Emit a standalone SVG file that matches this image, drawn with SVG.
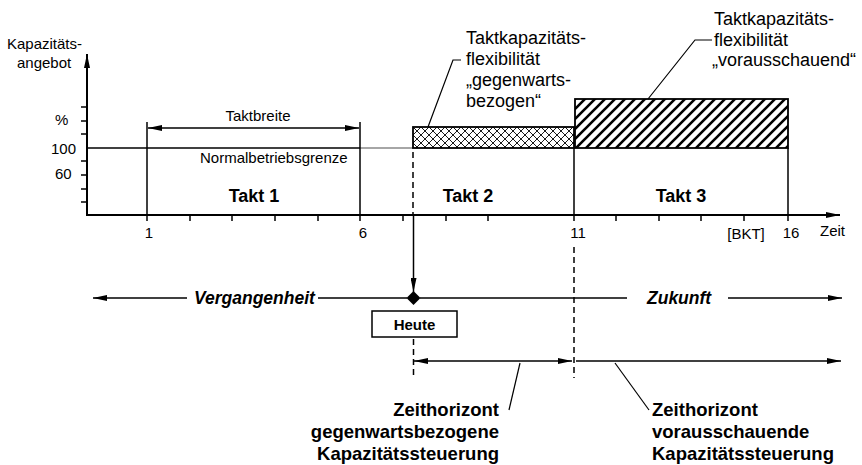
<svg xmlns="http://www.w3.org/2000/svg" width="862" height="465" viewBox="0 0 862 465">
  <style>
    text { font-family: "Liberation Sans", Arial, sans-serif; fill: #000; }
    .reg { font-size: 15px; }
    .lbl { font-size: 18px; }
    .bold { font-size: 18px; font-weight: bold; }
    .bi { font-size: 17.5px; font-weight: bold; font-style: italic; }
    .hz { font-size: 18.5px; font-weight: bold; }
    .axis { stroke: #000; stroke-width: 2; fill: none; }
    .ln { stroke: #000; stroke-width: 1.5; fill: none; }
    .thin { stroke: #000; stroke-width: 1.2; fill: none; }
    .dash { stroke: #000; stroke-width: 1.5; stroke-dasharray: 6 4; fill: none; }
    .tick { stroke: #000; stroke-width: 1.5; }
  </style>
  <defs>
    <marker id="arr" viewBox="0 0 14 6" refX="14" refY="3" markerWidth="14" markerHeight="6" markerUnits="userSpaceOnUse" orient="auto-start-reverse">
      <path d="M0,0 L14,3 L0,6 Z" fill="#000"/>
    </marker>
    <pattern id="cross" patternUnits="userSpaceOnUse" width="8" height="8" x="413" y="127">
      <rect width="8" height="8" fill="#fff"/>
      <path d="M0,0 L8,8 M8,0 L0,8" stroke="#000" stroke-width="0.9"/>
    </pattern>
    <pattern id="diag" patternUnits="userSpaceOnUse" width="10" height="10" x="575" y="99">
      <rect width="10" height="10" fill="#fff"/>
      <path d="M-2,2 L2,-2 M0,10 L10,0 M8,12 L12,8" stroke="#000" stroke-width="2.6"/>
    </pattern>
  </defs>

  <!-- chart axes and scale -->
  <g id="axes">
    <line class="axis" x1="87" y1="215" x2="87" y2="54" marker-end="url(#arr)"/>
    <line class="axis" x1="86" y1="215" x2="840" y2="215" marker-end="url(#arr)"/>
    <g class="tick">
      <line x1="81" y1="107" x2="87" y2="107"/>
      <line x1="81" y1="121" x2="87" y2="121"/>
      <line x1="81" y1="134" x2="87" y2="134"/>
      <line x1="81" y1="161" x2="87" y2="161"/>
      <line x1="81" y1="175" x2="87" y2="175"/>
      <line x1="81" y1="189" x2="87" y2="189"/>
      <line x1="81" y1="202" x2="87" y2="202"/>
      <line x1="190" y1="215" x2="190" y2="221"/>
      <line x1="232" y1="215" x2="232" y2="221"/>
      <line x1="275" y1="215" x2="275" y2="221"/>
      <line x1="318" y1="215" x2="318" y2="221"/>
      <line x1="403" y1="215" x2="403" y2="221"/>
      <line x1="446" y1="215" x2="446" y2="221"/>
      <line x1="488" y1="215" x2="488" y2="221"/>
      <line x1="616" y1="215" x2="616" y2="221"/>
      <line x1="659" y1="215" x2="659" y2="221"/>
      <line x1="701" y1="215" x2="701" y2="221"/>
      <line x1="744" y1="215" x2="744" y2="221"/>
    </g>
    <text class="reg" x="7" y="49">Kapazitäts-</text>
    <text class="reg" x="17" y="68">angebot</text>
    <text class="reg" x="55" y="125">%</text>
    <text class="reg" x="51" y="154">100</text>
    <text class="reg" x="55" y="179">60</text>
    <text class="reg" x="149" y="238" text-anchor="middle">1</text>
    <text class="reg" x="363" y="238" text-anchor="middle">6</text>
    <text class="reg" x="578" y="238" text-anchor="middle">11</text>
    <text class="reg" x="791" y="238" text-anchor="middle">16</text>
    <text class="reg" x="746" y="239" text-anchor="middle">[BKT]</text>
    <text class="reg" x="820" y="236">Zeit</text>
  </g>

  <!-- normal operating limit -->
  <g id="normalgrenze">
    <line class="ln" x1="87" y1="148" x2="360" y2="148"/>
    <line x1="360" y1="148" x2="413" y2="148" stroke="#888" stroke-width="1.5"/>
    <text class="reg" x="200" y="163">Normalbetriebsgrenze</text>
  </g>

  <!-- cycle 1 -->
  <g id="takt1">
    <line class="ln" x1="147" y1="122" x2="147" y2="221"/>
    <line class="ln" x1="360" y1="122" x2="360" y2="221"/>
    <text class="bold" x="254" y="202" text-anchor="middle">Takt 1</text>
  </g>

  <!-- cycle width dimension -->
  <g id="taktbreite">
    <line class="ln" x1="148" y1="128" x2="359" y2="128" marker-start="url(#arr)" marker-end="url(#arr)"/>
    <text class="reg" x="258" y="121" text-anchor="middle">Taktbreite</text>
  </g>

  <!-- cycle 2 with present-oriented flexibility -->
  <g id="takt2">
    <rect x="413" y="127" width="161" height="21" fill="url(#cross)" stroke="#000" stroke-width="1.8"/>
    <line class="dash" x1="413" y1="152" x2="413" y2="215"/>
    <line class="ln" x1="574" y1="148" x2="574" y2="221"/>
    <text class="bold" x="468" y="202" text-anchor="middle">Takt 2</text>
  </g>

  <!-- cycle 3 with forward-looking flexibility -->
  <g id="takt3">
    <rect x="575" y="99" width="213" height="49" fill="url(#diag)" stroke="#000" stroke-width="1.8"/>
    <line class="ln" x1="788" y1="148" x2="788" y2="221"/>
    <text class="bold" x="681" y="202" text-anchor="middle">Takt 3</text>
  </g>

  <g id="flex-gegenwart">
    <text class="lbl" x="466" y="44">Taktkapazitäts-</text>
    <text class="lbl" x="466" y="65">flexibilität</text>
    <text class="lbl" x="466" y="86">„gegenwarts-</text>
    <text class="lbl" x="466" y="107">bezogen“</text>
  </g>

  <g id="flex-voraus">
    <text class="lbl" x="714" y="25">Taktkapazitäts-</text>
    <text class="lbl" x="714" y="46">flexibilität</text>
    <text class="lbl" x="712" y="66">„vorausschauend“</text>
  </g>

  <!-- time line: past / today / future -->
  <g id="zeitachse">
    <text class="bi" x="194" y="304">Vergangenheit</text>
    <text class="bi" x="647" y="304">Zukunft</text>
  </g>

  <g id="heute">
    <path d="M413.5,291 L420.5,298 L413.5,305 L406.5,298 Z" fill="#000"/>
    <rect x="372" y="311" width="85" height="26" fill="#fff" stroke="#000" stroke-width="1.5"/>
    <text x="414.5" y="330" font-size="15" font-weight="bold" text-anchor="middle">Heute</text>
  </g>

  <g id="horizont-gegenwart">
    <text class="hz" x="499" y="416" text-anchor="end">Zeithorizont</text>
    <text class="hz" x="499" y="438" text-anchor="end">gegenwartsbezogene</text>
    <text class="hz" x="499" y="460" text-anchor="end">Kapazitätssteuerung</text>
  </g>

  <g id="horizont-voraus">
    <text class="hz" x="652" y="416">Zeithorizont</text>
    <text class="hz" x="652" y="438">vorausschauende</text>
    <text class="hz" x="652" y="460">Kapazitätssteuerung</text>
  </g>

  <!-- connectors -->
  <g id="connectors">
    <line class="ln" x1="413.5" y1="215" x2="413.5" y2="292" marker-end="url(#arr)"/>
    <line class="ln" x1="187" y1="298" x2="93" y2="298" marker-end="url(#arr)"/>
    <line class="ln" x1="318" y1="298" x2="407" y2="298"/>
    <line class="ln" x1="420" y1="298" x2="627" y2="298"/>
    <line class="ln" x1="728" y1="298" x2="842" y2="298" marker-end="url(#arr)"/>
    <line class="dash" x1="574" y1="247" x2="574" y2="378"/>
    <line class="dash" x1="413.5" y1="339" x2="413.5" y2="378"/>
    <line class="ln" x1="414" y1="361" x2="572" y2="361" marker-start="url(#arr)" marker-end="url(#arr)"/>
    <line class="ln" x1="576" y1="361" x2="841" y2="361" marker-end="url(#arr)"/>
    <polyline class="thin" points="428,127 453,60 461,60"/>
    <polyline class="thin" points="648,99 695,40 712,40"/>
    <line class="thin" x1="520" y1="363" x2="509" y2="410"/>
    <line class="thin" x1="615" y1="363" x2="649" y2="410"/>
  </g>
</svg>
